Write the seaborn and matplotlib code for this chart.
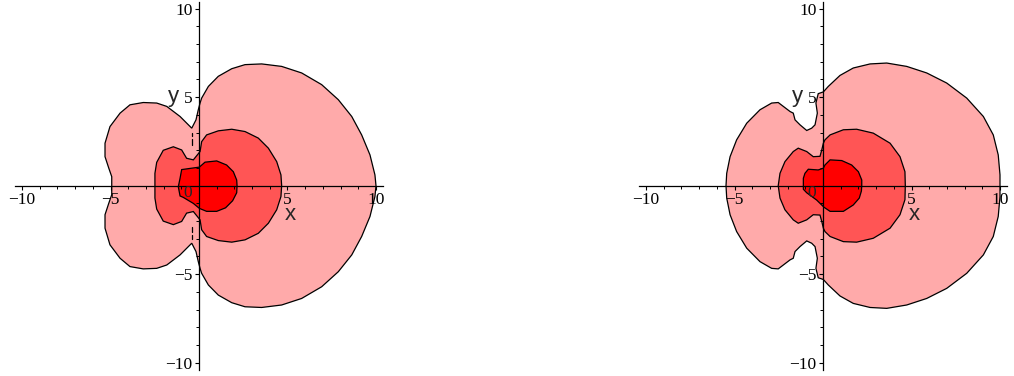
import numpy as np
import matplotlib
matplotlib.use("Agg")
import matplotlib.pyplot as plt
import seaborn as sns
from matplotlib.ticker import MultipleLocator

# ---------------- data ----------------
level_colors = ["#FFAAAA", "#FF5555", "#FF0000"]

# Left plot: outer level (upper half, mirrored about y = 0)
L1_x = [10, 9.94, 9.66, 9.19, 8.63, 7.87, 6.93, 5.8, 4.67, 3.54, 2.6, 1.85, 1.09, 0.53, 0.15, 0.06,
        -0.04, -0.17, -0.41, -1.07, -1.82, -2.39, -3.15, -3.9, -4.46, -5.03, -5.31, -5.31, -5.1, -4.93, -4.93]
L1_y = [0, 0.61, 1.74, 2.87, 3.91, 4.86, 5.71, 6.37, 6.74, 6.88, 6.84, 6.61, 6.18, 5.61, 4.95, 4.67,
        4.29, 3.72, 3.25, 3.91, 4.48, 4.67, 4.70, 4.57, 4.10, 3.34, 2.40, 1.64, 1.0, 0.51, 0]
# Left plot: middle level (upper half, mirrored)
L2_x = [4.67, 4.63, 4.39, 3.92, 3.35, 2.6, 1.85, 1.09, 0.43, 0.15, 0.06, -0.32, -0.7, -0.98,
        -1.45, -2.02, -2.39, -2.49, -2.49]
L2_y = [0, 0.61, 1.36, 2.12, 2.69, 3.06, 3.19, 3.1, 2.87, 2.49, 1.93, 1.46, 1.55, 2.02,
        2.2, 2.0, 1.32, 0.7, 0]
# Left plot: inner level (full outline)
L3_x = [2.15, 2.13, 1.94, 1.56, 1.0, 0.34, 0.02, -0.98, -1.07, -1.17, -1.07, -0.89, -0.32, 0.02,
        0.43, 1.0, 1.5, 1.9, 2.13]
L3_y = [0, 0.32, 0.79, 1.17, 1.4, 1.33, 1.05, 0.91, 0.42, -0.06, -0.58, -0.66, -1.0, -1.28,
        -1.45, -1.45, -1.25, -0.85, -0.4]
# Left plot: small broken contour pieces near the notches
L_dash_x = [-0.41, -0.41]
L_dash_y1 = [2.78, 3.0]
L_dash_y2 = [2.31, 2.63]

# Right plot: outer level (upper half, mirrored)
R1_x = [10, 10, 9.9, 9.62, 9.06, 8.12, 6.99, 5.86, 4.73, 3.6, 2.66, 1.71, 0.96, 0.3, 0.02, -0.27,
        -0.4, -0.32, -0.45, -0.64, -0.92, -1.3, -1.58, -1.68, -1.86, -2.53, -2.9, -3.56, -4.31,
        -4.88, -5.25, -5.44, -5.48]
R1_y = [0, 0.61, 1.74, 2.87, 3.91, 4.95, 5.8, 6.37, 6.74, 6.93, 6.88, 6.65, 6.23, 5.61, 5.3, 5.2,
        4.67, 4.1, 3.44, 3.25, 3.12, 3.44, 3.72, 4.1, 4.19, 4.7, 4.67, 4.29, 3.53,
        2.59, 1.64, 0.7, 0]
# Right plot: middle level (upper half, mirrored)
R2_x = [4.65, 4.63, 4.35, 3.79, 2.84, 1.9, 1.15, 0.4, 0.11, 0.02, -0.07, -0.17, -0.55, -0.92, -1.4,
        -1.68, -2.15, -2.43, -2.53]
R2_y = [0, 0.79, 1.64, 2.4, 2.97, 3.19, 3.16, 2.87, 2.59, 2.4, 2.02, 1.66, 1.64, 1.93, 2.12,
        1.93, 1.36, 0.7, 0]
# Right plot: inner level (full outline)
R3_x = [2.19, 2.19, 2.0, 1.62, 1.06, 0.4, 0.11, 0.02, -0.27, -0.83, -1.02, -1.11, -1.11, -0.92,
        -0.36, 0.06, 0.4, 1.15, 1.71, 2.05, 2.17]
R3_y = [0, 0.32, 0.79, 1.17, 1.42, 1.46, 1.17, 0.99, 0.89, 0.93, 0.7, 0.42, -0.2, -0.4,
        -0.81, -1.22, -1.45, -1.45, -1.09, -0.7, -0.3]

x_ticks = [-10, -5, 5, 10]
y_ticks = [-10, -5, 5, 10]
lim = 10.4


def mirror(xs, ys):
    xs = list(xs)
    ys = list(ys)
    full_x = xs + xs[-2:0:-1]
    full_y = ys + [-v for v in ys[-2:0:-1]]
    return full_x, full_y


sns.set_theme(style="white")
plt.rcParams["font.family"] = ["Liberation Serif", "DejaVu Serif"]

fig = plt.figure(figsize=(10.14, 3.76), dpi=100)
W, H = 1014.0, 376.0
size_px = 2 * lim * 17.7
ax1 = fig.add_axes([(199 - lim * 17.7) / W, (H - (185.7 + lim * 17.7)) / H, size_px / W, size_px / H])
ax2 = fig.add_axes([(823 - lim * 17.7) / W, (H - (185.7 + lim * 17.7)) / H, size_px / W, size_px / H])


def draw(ax, shapes, dashes=None):
    for (xs, ys), col in zip(shapes, level_colors):
        ax.fill(xs, ys, facecolor=col, edgecolor="black", linewidth=0.9, zorder=1)
    if dashes:
        for dx, dy in dashes:
            ax.plot(dx, dy, color="black", lw=0.9, zorder=1.5)
            ax.plot(dx, [-v for v in dy], color="black", lw=0.9, zorder=1.5)
    ax.set_axisbelow(False)
    ax.set_xlim(-lim, lim)
    ax.set_ylim(-lim, lim)
    ax.set_aspect("equal")
    for s in ["top", "right"]:
        ax.spines[s].set_visible(False)
    ax.spines["left"].set_position(("data", 0))
    ax.spines["bottom"].set_position(("data", 0))
    for s in ["left", "bottom"]:
        ax.spines[s].set_color("black")
        ax.spines[s].set_linewidth(0.9)
        ax.spines[s].set_zorder(3)
    ax.set_xticks(x_ticks)
    ax.set_yticks(y_ticks)
    ax.xaxis.set_minor_locator(MultipleLocator(1))
    ax.yaxis.set_minor_locator(MultipleLocator(1))
    ax.tick_params(which="major", direction="out", length=3.2, width=0.8, color="black",
                   labelsize=12.5, labelcolor="black")
    ax.tick_params(which="minor", direction="out", length=2.2, width=0.7, color="black")
    ax.tick_params(axis="x", pad=1.0, bottom=True, which="both")
    ax.tick_params(axis="y", pad=1.5, left=True, which="both")
    ax.text(-0.66, -0.42, "0", ha="center", va="center", fontsize=12.5, zorder=4)
    ax.text(5.14, -1.6, "x", ha="center", va="center", fontsize=16,
            family=["Liberation Sans", "DejaVu Sans"], zorder=4)
    ax.text(-1.45, 5.05, "y", ha="center", va="center", fontsize=16,
            family=["Liberation Sans", "DejaVu Sans"], zorder=4)
    ax.set_facecolor("white")
    ax.patch.set_alpha(0)


draw(ax1, [mirror(L1_x, L1_y), mirror(L2_x, L2_y), (L3_x, L3_y)],
     dashes=[(L_dash_x, L_dash_y1), (L_dash_x, L_dash_y2)])
draw(ax2, [mirror(R1_x, R1_y), mirror(R2_x, R2_y), (R3_x, R3_y)])

fig.savefig("out.png", dpi=100, facecolor="white")
